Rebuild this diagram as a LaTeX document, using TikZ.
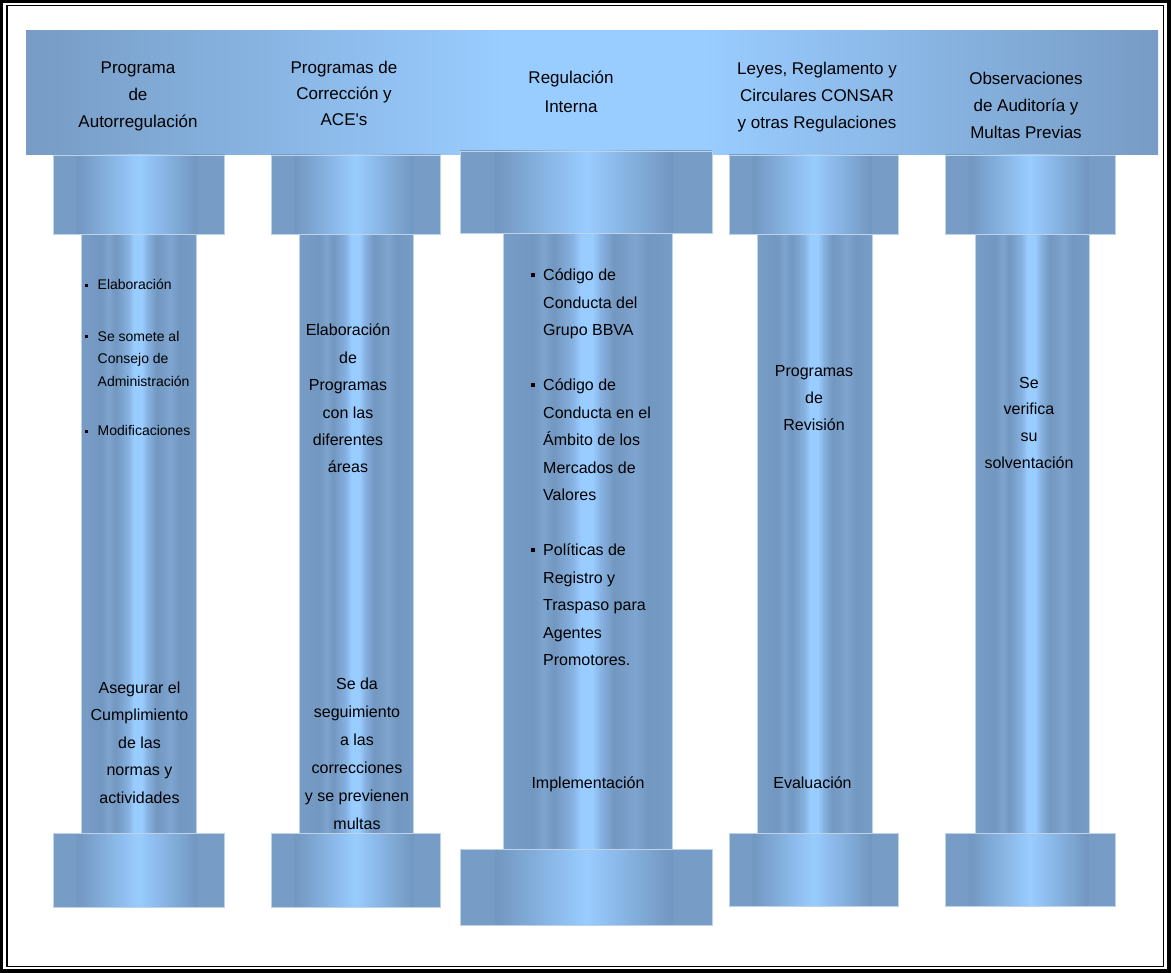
\documentclass[tikz,border=0pt]{standalone}
\usepackage{fontspec}
\setmainfont{Liberation Sans}

% palette of the pillars
\definecolor{pdark}{RGB}{119,156,197}
\definecolor{pdeep}{RGB}{114,151,192}
\definecolor{pmid}{RGB}{134,177,224}
\definecolor{pstripe}{RGB}{126,165,208}
\definecolor{plight}{RGB}{153,204,255}
\definecolor{prim}{RGB}{190,210,234}

% horizontal colour ramps (25bp..75bp spans the filled shape)
\pgfdeclarehorizontalshading{bannershade}{100bp}{color(0bp)=(pdark); color(25bp)=(pdark); color(46bp)=(plight); color(55bp)=(plight); color(75bp)=(pdark); color(100bp)=(pdark)}
\pgfdeclarehorizontalshading{blockshade}{100bp}{color(0bp)=(pdark); color(25bp)=(pdark); color(31.6bp)=(pdark); color(32bp)=(pdeep); color(50bp)=(plight); color(67bp)=(pdeep); color(67.4bp)=(pdark); color(75bp)=(pdark); color(100bp)=(pdark)}
\pgfdeclarehorizontalshading{shaftshade}{100bp}{color(0bp)=(pdark); color(25bp)=(pdark); color(34bp)=(pdeep); color(37bp)=(pstripe); color(40bp)=(pdeep); color(45.5bp)=(pmid); color(48bp)=(plight); color(51.5bp)=(plight); color(54bp)=(pmid); color(58bp)=(pdeep); color(64bp)=(pstripe); color(68bp)=(pdeep); color(75bp)=(pdark); color(100bp)=(pdark)}

\newcommand\centrelines[1]{\begin{tabular}[t]{@{}c@{}}#1\end{tabular}}
\newcommand\bulletlines[2]{\begin{tabular}[t]{@{}l@{\hspace{#1}}l@{}}#2\end{tabular}}
\newcommand\sqbul{\rule[0.22em]{4pt}{4pt}}
\newcommand\sqbulsmall{\rule[0.22em]{3pt}{3pt}}

\tikzset{
  banner/.style={shading=bannershade, draw=none},
  block/.style={shading=blockshade, draw=prim, line width=0.8pt},
  shaft/.style={shading=shaftshade, draw=prim, line width=0.8pt},
  head/.style={font=\fontsize{17}{27}\selectfont, anchor=base, inner sep=0pt},
  body/.style={font=\fontsize{16}{27.5}\selectfont, anchor=base, inner sep=0pt},
  small/.style={font=\fontsize{14}{22.5}\selectfont, anchor=base west, inner sep=0pt},
}

\begin{document}
\begin{tikzpicture}[x=1pt, y=-1pt]
\useasboundingbox (0,0) rectangle (1172,973);
\fill[white] (0,0) rectangle (1172,973);

% top beam
\shade[banner] (26,31) rectangle (1158,155);

% shafts
\shade[shaft] (81,234) rectangle (196,833);
\shade[shaft] (299,234) rectangle (413,833);
\shade[shaft] (503,233) rectangle (672,849);
\shade[shaft] (757,234) rectangle (872,833);
\shade[shaft] (975,234) rectangle (1089,833);

% capitals
\shade[block] (53,155) rectangle (224,234);
\shade[block] (271,155) rectangle (440,234);
\shade[block] (460,151) rectangle (712,233);
\shade[block] (729,155) rectangle (898,234);
\shade[block] (945,155) rectangle (1115,234);

% bases
\shade[block] (53,833) rectangle (224,907);
\shade[block] (271,833) rectangle (440,907);
\shade[block] (460,849) rectangle (712,925);
\shade[block] (729,833) rectangle (898,906);
\shade[block] (945,833) rectangle (1115,906);

% headings on the beam
\node[head] (h1) at (138,74) {\centrelines{Programa\\de\\Autorregulación}};
\node[head, font=\fontsize{17}{26}\selectfont] (h2) at (344,74) {\centrelines{Programas de\\Corrección y\\ACE\textquotesingle s}};
\node[head, font=\fontsize{17}{29}\selectfont] (h3) at (571,84) {\centrelines{Regulación\\Interna}};
\node[head] (h4) at (817,75) {\centrelines{Leyes, Reglamento y\\Circulares CONSAR\\y otras Regulaciones}};
\node[head] (h5) at (1026,85) {\centrelines{Observaciones\\de Auditoría y\\Multas Previas}};

% pillar 1
\node[small] (l1) at (84.5,290) {\bulletlines{10pt}{%
  \sqbulsmall & Elaboración\\[29pt]
  \sqbulsmall & Se somete al\\
              & Consejo de\\
              & Administración\\[27pt]
  \sqbulsmall & Modificaciones}};
\node[body] (b1) at (139.5,693) {\centrelines{Asegurar el\\Cumplimiento\\de las\\normas y\\actividades}};

% pillar 2
\node[body, font=\fontsize{16}{27.4}\selectfont] (t2) at (348,336) {\centrelines{Elaboración\\de\\Programas\\con las\\diferentes\\áreas}};
\node[body, font=\fontsize{16}{28}\selectfont] (b2) at (357,689) {\centrelines{Se da\\seguimiento\\a las\\correcciones\\y se previenen\\multas}};

% pillar 3
\node[body, anchor=base west] (l3) at (531,281) {\bulletlines{8pt}{%
  \sqbul & Código de\\
         & Conducta del\\
         & Grupo BBVA\\[27.5pt]
  \sqbul & Código de\\
         & Conducta en el\\
         & Ámbito de los\\
         & Mercados de\\
         & Valores\\[27.5pt]
  \sqbul & Políticas de\\
         & Registro y\\
         & Traspaso para\\
         & Agentes\\
         & Promotores.}};
\node[body] (b3) at (588,788) {Implementación};

% pillar 4
\node[body] (t4) at (814,376) {\centrelines{Programas\\de\\Revisión}};
\node[body] (b4) at (812.5,788) {Evaluación};

% pillar 5
\node[body, font=\fontsize{16}{27}\selectfont] (t5) at (1029,388) {\centrelines{Se\\verifica\\su\\solventación}};

% double frame
\draw[line width=3.2pt] (1.6,1.6) rectangle (1169,971);
\draw[line width=1.4pt] (7,5.5) rectangle (1163.5,966.5);
\end{tikzpicture}
\end{document}
